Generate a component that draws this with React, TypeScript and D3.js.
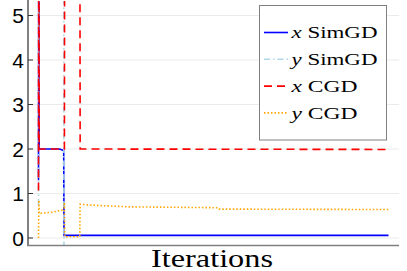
import React from 'react';
import * as d3 from 'd3';

// iteration indices and values (values above 5.3 are clipped)
const xSimIter = [0, 1, 2, 60, 68, 72, 73, 1000];
const xSimVal = [1.3, 9, 2.0, 2.0, 1.98, 1.96, 0.06, 0.06];

const ySimIter = [0, 1, 72, 73, 1000];
const ySimVal = [0.74, 9, 9, -3, -3];

const xCgdIter = [0, 1, 2, 74, 75, 118, 119, 1000];
const xCgdVal = [1.07, 9, 2.0, 2.0, 9, 9, 2.0, 1.99];

const yCgdIter = [0, 1, 2, 40, 70, 73, 74, 75, 118, 119, 150, 260, 400, 512, 515, 1000];
const yCgdVal = [0.0, 0.85, 0.55, 0.58, 0.63, 0.65, 0.8, 0.03, 0.03, 0.76, 0.74, 0.7, 0.69, 0.68, 0.65, 0.64];

const yTicks = [0, 1, 2, 3, 4, 5];
const legendLabels = [
  ['x', 'SimGD'],
  ['y', 'SimGD'],
  ['x', 'CGD'],
  ['y', 'CGD'],
];

const W = 407;
const H = 271;
const plot = { left: 28, right: 399, top: 1, bottom: 245 };

const series = [
  { it: xSimIter, v: xSimVal, color: '#0000ff', dash: 'none', w: 1.6 },
  { it: ySimIter, v: ySimVal, color: '#add8e6', dash: '6,3,1.5,3', w: 1.6 },
  { it: xCgdIter, v: xCgdVal, color: '#ff0000', dash: '8,5', w: 1.6 },
  { it: yCgdIter, v: yCgdVal, color: '#ffa500', dash: '1.5,2', w: 1.6 },
];

const App = () => {
  const x = d3.scaleLinear().domain([-30, 1030]).range([plot.left, plot.right]);
  const y = d3.scaleLinear().domain([-0.157, 5.326]).range([plot.bottom, plot.top]);

  const line = d3.line<[number, number]>()
    .x(d => x(d[0]))
    .y(d => y(d[1]));

  const legendY = d3.scaleLinear().domain([0, 3]).range([32.5, 112.9]);

  return (
    <svg width={W} height={H} style={{ position: 'absolute', left: 0, top: 0, background: '#fff' }}>
      <defs>
        <clipPath id="plotclip">
          <rect x={plot.left} y={plot.top} width={plot.right - plot.left} height={plot.bottom - plot.top} />
        </clipPath>
      </defs>

      {/* grid */}
      {yTicks.map(t => (
        <line key={'g' + t} x1={plot.left} x2={plot.right} y1={y(t)} y2={y(t)} stroke="#ebebeb" strokeWidth={1} />
      ))}

      {/* series */}
      <g clipPath="url(#plotclip)">
        {series.map((s, i) => (
          <path
            key={i}
            d={line(s.it.map((it, j) => [it, s.v[j]] as [number, number])) || ''}
            fill="none"
            stroke={s.color}
            strokeWidth={s.w}
            strokeDasharray={s.dash}
          />
        ))}
      </g>

      {/* axes */}
      <line x1={plot.left} x2={plot.left} y1={0} y2={plot.bottom + 1} stroke="#808080" strokeWidth={2} />
      <line x1={plot.left - 1} x2={plot.right} y1={plot.bottom + 0.5} y2={plot.bottom + 0.5} stroke="#808080" strokeWidth={1.5} />
      {yTicks.map(t => (
        <g key={'t' + t}>
          <line x1={plot.left} x2={plot.left + 5} y1={y(t)} y2={y(t)} stroke="#333" strokeWidth={1} />
          <text
            x={24}
            y={y(t)}
            textAnchor="end"
            dominantBaseline="central"
            fontFamily="Liberation Sans, Arial, sans-serif"
            fontSize={21}
            fill="#000"
          >
            {t}
          </text>
        </g>
      ))}

      <text
        x={151}
        y={266.5}
        fontFamily="Liberation Serif, serif"
        fontSize={25}
        textLength={122}
        lengthAdjust="spacingAndGlyphs"
        fill="#000"
      >
        Iterations
      </text>

      {/* legend */}
      <rect x={259.5} y={5.5} width={127} height={134.5} fill="#fff" stroke="#808080" strokeWidth={1} />
      {legendLabels.map((lab, i) => (
        <g key={'l' + i}>
          <line
            x1={264}
            x2={288}
            y1={legendY(i)}
            y2={legendY(i)}
            stroke={series[i].color}
            strokeWidth={series[i].w}
            strokeDasharray={series[i].dash}
          />
          <text
            x={291.5}
            y={legendY(i) + 5.8}
            fontFamily="Liberation Serif, serif"
            fontSize={17}
            textLength={lab[1] === 'SimGD' ? 86 : 66}
            lengthAdjust="spacingAndGlyphs"
            fill="#000"
          >
            <tspan fontStyle="italic">{lab[0]}</tspan>
            <tspan> {lab[1]}</tspan>
          </text>
        </g>
      ))}
    </svg>
  );
};

export default App;
